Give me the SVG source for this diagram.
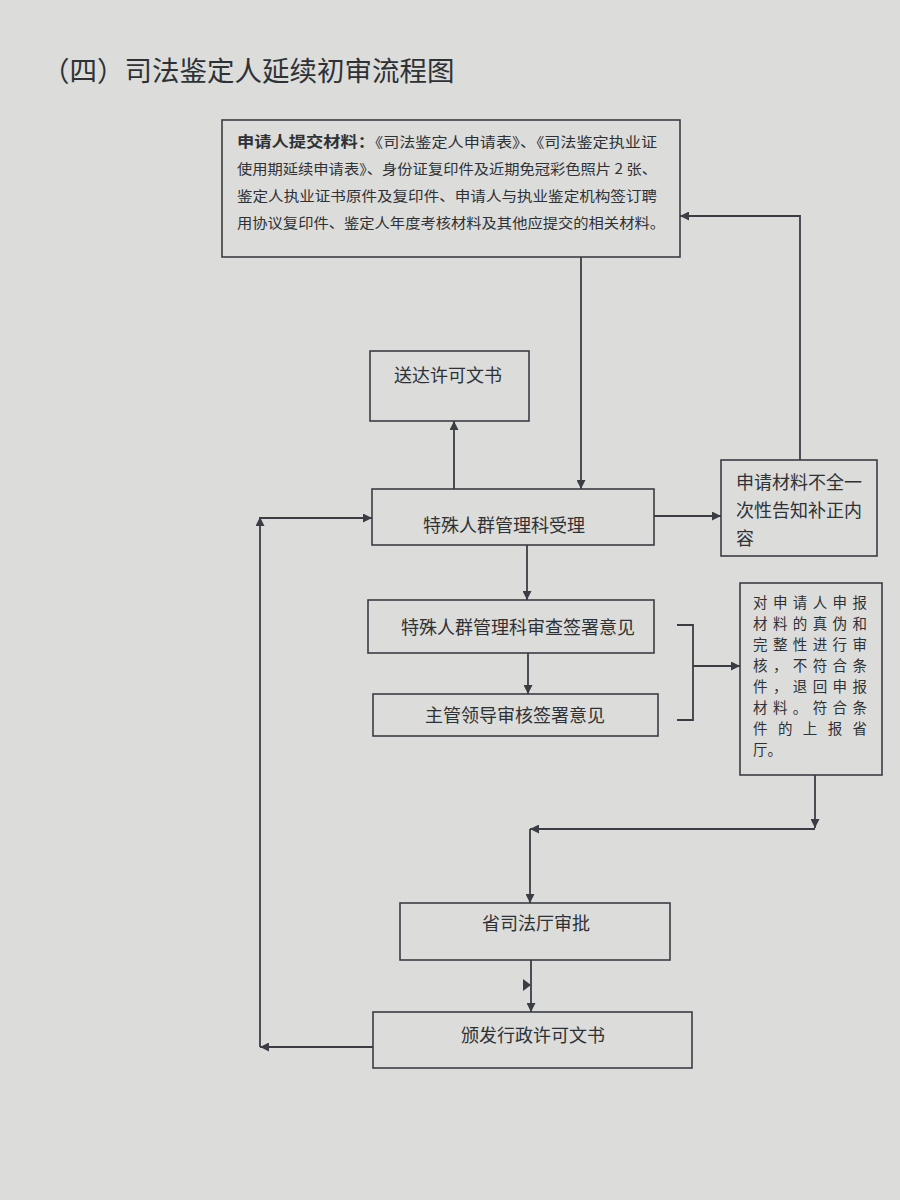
<svg xmlns="http://www.w3.org/2000/svg" width="900" height="1200" viewBox="0 0 900 1200">
<style>
.bg{fill:#dcdcda}
.box{fill:none;stroke:#3a3e44;stroke-width:1.6}
.ln{fill:none;stroke:#3a3e44;stroke-width:1.8}
.t{font-family:"Noto Sans CJK SC","Liberation Sans",sans-serif;fill:#2e3236;font-size:18px}
.s{font-size:14px}
.c{font-size:14.5px}
.b{font-weight:bold;font-size:15px}
.title{font-family:"Noto Sans CJK SC","Liberation Sans",sans-serif;fill:#2e3236;font-size:27.5px}
</style>
<defs>
<marker id="ah" viewBox="0 0 10 10" refX="10" refY="5" markerWidth="9" markerHeight="9" markerUnits="userSpaceOnUse" orient="auto"><path d="M0,0 L10,5 L0,10 z" fill="#3a3e44"/></marker>
</defs>
<rect class="bg" x="0" y="0" width="900" height="1200"/>
<text class="title" x="42" y="81">（四）司法鉴定人延续初审流程图</text>

<g id="connectors">
<path class="ln" d="M581,257 V489" marker-end="url(#ah)"/>
<path class="ln" d="M454,489 V421" marker-end="url(#ah)"/>
<path class="ln" d="M654,516 H721" marker-end="url(#ah)"/>
<path class="ln" d="M800,460 V216 H680" marker-end="url(#ah)"/>
<path class="ln" d="M527,545 V600" marker-end="url(#ah)"/>
<path class="ln" d="M528,653 V694" marker-end="url(#ah)"/>
<path class="ln" d="M677,625 H693 V720 H677"/>
<path class="ln" d="M693,666 H740" marker-end="url(#ah)"/>
<path class="ln" d="M815,775 V828" marker-end="url(#ah)"/>
<path class="ln" d="M815,829 H530" marker-end="url(#ah)"/>
<path class="ln" d="M530,829 V903" marker-end="url(#ah)"/>
<path class="ln" d="M531,960 V1012" marker-end="url(#ah)"/>
<path d="M523,979 L531,985 L523,991 z" fill="#3a3e44"/>
<path class="ln" d="M373,1047 H260" marker-end="url(#ah)"/>
<path class="ln" d="M260,1047 V517" marker-end="url(#ah)"/>
<path class="ln" d="M260,518 H372" marker-end="url(#ah)"/>
</g>

<g id="submit">
<rect class="box" x="222" y="120" width="458" height="137"/>
<text class="t s" x="237" y="147" textLength="420" lengthAdjust="spacingAndGlyphs"><tspan class="b">申请人提交材料：</tspan>《司法鉴定人申请表》、《司法鉴定执业证</text>
<text class="t s" x="237" y="174" textLength="420" lengthAdjust="spacingAndGlyphs">使用期延续申请表》、身份证复印件及近期免冠彩色照片 2 张、</text>
<text class="t s" x="237" y="201" textLength="420" lengthAdjust="spacingAndGlyphs">鉴定人执业证书原件及复印件、申请人与执业鉴定机构签订聘</text>
<text class="t s" x="237" y="228" textLength="428" lengthAdjust="spacingAndGlyphs">用协议复印件、鉴定人年度考核材料及其他应提交的相关材料。</text>
</g>

<g id="deliver">
<rect class="box" x="370" y="351" width="159" height="70"/>
<text class="t" x="448" y="382" text-anchor="middle">送达许可文书</text>
</g>

<g id="accept">
<rect class="box" x="372" y="489" width="282" height="56"/>
<text class="t" x="504" y="532" text-anchor="middle">特殊人群管理科受理</text>
</g>

<g id="notify">
<rect class="box" x="721" y="460" width="156" height="96"/>
<text class="t" x="736" y="489">申请材料不全一</text>
<text class="t" x="736" y="517">次性告知补正内</text>
<text class="t" x="736" y="545">容</text>
</g>

<g id="review">
<rect class="box" x="368" y="600" width="286" height="53"/>
<text class="t" x="518" y="634" text-anchor="middle">特殊人群管理科审查签署意见</text>
</g>

<g id="leader">
<rect class="box" x="373" y="694" width="285" height="42"/>
<text class="t" x="515" y="722" text-anchor="middle">主管领导审核签署意见</text>
</g>

<g id="check">
<rect class="box" x="740" y="583" width="142" height="192"/>
<text class="t c" x="753" y="608" textLength="114" lengthAdjust="spacing">对申请人申报</text>
<text class="t c" x="753" y="629" textLength="114" lengthAdjust="spacing">材料的真伪和</text>
<text class="t c" x="753" y="650" textLength="114" lengthAdjust="spacing">完整性进行审</text>
<text class="t c" x="753" y="671" textLength="114" lengthAdjust="spacing">核，不符合条</text>
<text class="t c" x="753" y="692" textLength="114" lengthAdjust="spacing">件，退回申报</text>
<text class="t c" x="753" y="713" textLength="114" lengthAdjust="spacing">材料。符合条</text>
<text class="t c" x="753" y="734" textLength="114" lengthAdjust="spacing">件的上报省</text>
<text class="t c" x="753" y="755">厅。</text>
</g>

<g id="approve">
<rect class="box" x="400" y="903" width="270" height="57"/>
<text class="t" x="536" y="930" text-anchor="middle">省司法厅审批</text>
</g>

<g id="issue">
<rect class="box" x="373" y="1012" width="319" height="56"/>
<text class="t" x="533" y="1042" text-anchor="middle">颁发行政许可文书</text>
</g>
</svg>
